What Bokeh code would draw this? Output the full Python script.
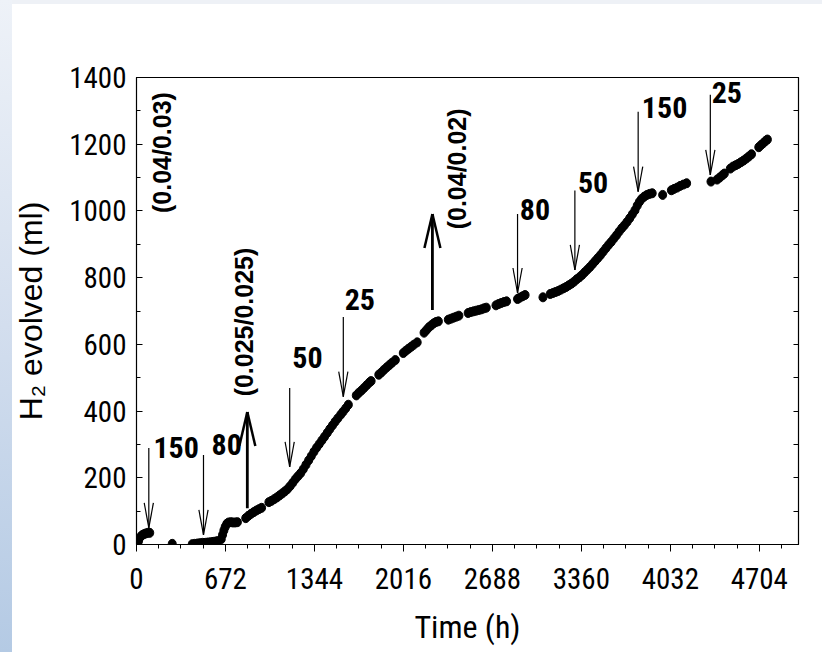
import numpy as np
from bokeh.plotting import figure
from bokeh.models import LinearAxis, FixedTicker, CustomJSTickFormatter, Range1d, ColumnDataSource
from bokeh.core.properties import value
from bokeh.embed import file_html
from bokeh.resources import INLINE

# ---------------- data ----------------
time_h = [
    5, 15, 28, 42, 56, 70, 85, 100,
    270,
    421, 440, 460, 480, 500, 520, 540, 560, 580, 600, 612,
    640, 650, 660, 670, 682, 696, 712, 728, 745, 762,
    825, 845, 865, 885, 905, 925, 945,
    1000, 1020, 1040, 1060, 1080, 1100, 1120, 1140, 1160, 1180, 1200, 1220, 1240, 1260,
    1280, 1300, 1320, 1340, 1360, 1380, 1400, 1420, 1441, 1460, 1480, 1500, 1520, 1542,
    1560, 1580, 1600,
    1660, 1680, 1700, 1720, 1740, 1760, 1772,
    1830, 1850, 1870, 1890, 1910, 1930, 1955,
    2015, 2035, 2055, 2075, 2095, 2120,
    2172, 2190, 2208, 2226, 2245, 2262, 2280,
    2355, 2375, 2395, 2415, 2435,
    2505, 2525, 2545, 2565, 2585, 2605, 2625, 2642,
    2715, 2735, 2755, 2775, 2795,
    2878, 2895, 2915, 2935,
    3070,
    3125, 3145, 3165, 3185, 3205, 3225, 3245, 3265, 3285, 3305, 3325, 3345, 3365, 3385,
    3405, 3425, 3445, 3465, 3485, 3505, 3525, 3545, 3565, 3585, 3605, 3625, 3645, 3665,
    3685, 3705, 3725, 3745, 3765, 3782, 3798, 3815, 3835, 3855, 3875, 3895,
    3974,
    4040, 4060, 4083, 4106, 4130, 4155,
    4339,
    4385, 4405, 4425, 4440,
    4485, 4505, 4525, 4545, 4565, 4585, 4605, 4625, 4645,
    4700, 4718, 4736, 4752, 4765,
]
h2_ml = [
    3, 10, 22, 28, 31, 33, 35, 35,
    2,
    1, 2, 3, 4, 5, 5, 6, 7, 8, 9, 10,
    16, 29, 42, 53, 62, 66, 67, 66, 66, 67,
    79, 86, 92, 97, 102, 106, 110,
    127, 131, 136, 141, 147, 153, 159, 166, 175, 185, 196, 205, 214, 226,
    239, 252, 265, 278, 290, 301, 312, 323, 335, 346, 357, 368, 378, 389,
    398, 408, 419,
    447, 455, 462, 470, 478, 486, 490,
    509, 516, 524, 531, 538, 545, 553,
    574, 581, 587, 593, 599, 606,
    635, 643, 651, 657, 663, 667, 669,
    674, 677, 680, 683, 686,
    694, 697, 699, 701, 703, 705, 708, 710,
    717, 721, 724, 727, 729,
    736, 740, 744, 748,
    741,
    751, 754, 757, 760, 764, 768, 772, 777, 782, 788, 795, 801, 808, 816,
    824, 832, 841, 850, 859, 868, 878, 888, 898, 907, 917, 927, 938, 948,
    957, 967, 978, 990, 1002, 1016, 1027, 1036, 1043, 1048, 1051, 1053,
    1048,
    1062, 1066, 1070, 1075, 1079, 1083,
    1088,
    1094, 1100, 1107, 1112,
    1127, 1133, 1137, 1141, 1146, 1151, 1157, 1163, 1170,
    1191, 1198, 1204, 1210, 1214,
]

x_ticks = [0, 672, 1344, 2016, 2688, 3360, 4032, 4704]
x_minor = list(range(0, 5001, 168))
y_ticks = [0, 200, 400, 600, 800, 1000, 1200, 1400]
y_minor = list(range(0, 1401, 100))

# thin arrows pointing down (label next to each)
down_x = [93, 506, 1157, 1562, 2878, 3311, 3789, 4334]
down_top = [289, 268, 469, 682, 991, 1061, 1297, 1348]
down_tip = [50, 29, 233, 443, 754, 823, 1058, 1108]
# thick arrows pointing up
up_x = [837, 2235]
up_base = [109, 703]
up_tip = [397, 991]

# labels beside the arrows (left edge, vertical centre)
num_labels = ["150", "80", "50", "25", "80", "50", "150", "25"]
num_x = [128, 567, 1177, 1572, 2895, 3334, 3817, 4344]
num_y = [291, 301, 561, 733, 1004, 1085, 1310, 1354]

ratio_labels = ["(0.04/0.03)", "(0.025/0.025)", "(0.04/0.02)"]
ratio_x = [189, 809, 2419]
ratio_y = [1175, 667, 1126]

x_title = "Time (h)"
y_title = "H\u2082 evolved (ml)"

# ---------------- figure ----------------
X_END, Y_END = 5000, 1400
W, H = 806, 644
BL, BR, BT, BB = 128, 16, 69, 108
fw, fh = W - BL - BR, H - BT - BB
px_x = fw / X_END
px_y = fh / Y_END

p = figure(width=W, height=H, x_range=Range1d(0, X_END), y_range=Range1d(0, Y_END),
           output_backend="svg", toolbar_location=None,
           min_border_left=BL, min_border_right=BR, min_border_top=BT, min_border_bottom=BB)
p.background_fill_color = "white"
p.border_fill_color = None
p.outline_line_color = "black"
p.outline_line_width = 1.2
p.grid.visible = False

COND = "Roboto Condensed"

xa = p.xaxis[0]
xa.ticker = FixedTicker(ticks=x_ticks, minor_ticks=x_minor)
xa.major_tick_in = 0
xa.major_tick_out = 7
xa.minor_tick_in = 0
xa.minor_tick_out = 4
xa.axis_line_color = "black"
xa.major_tick_line_color = "black"
xa.minor_tick_line_color = "black"
xa.major_label_text_font = COND
xa.major_label_text_font_size = "29px"
xa.major_label_text_color = "black"
xa.major_label_standoff = 16
xa.axis_label = x_title
xa.axis_label_text_font = COND
xa.axis_label_text_font_size = "32px"
xa.axis_label_text_font_style = "normal"
xa.axis_label_text_color = "black"
xa.axis_label_standoff = 16

ya = p.yaxis[0]
ya.ticker = FixedTicker(ticks=y_ticks, minor_ticks=y_minor)
ya.major_tick_in = 6
ya.major_tick_out = 0
ya.minor_tick_in = 4
ya.minor_tick_out = 0
ya.axis_line_color = "black"
ya.major_tick_line_color = "black"
ya.minor_tick_line_color = "black"
ya.major_label_text_font = COND
ya.major_label_text_font_size = "29px"
ya.major_label_text_color = "black"
ya.major_label_standoff = 10
ya.axis_label = y_title
ya.axis_label_text_font = "Liberation Sans"
ya.axis_label_text_font_size = "32px"
ya.axis_label_text_font_style = "normal"
ya.axis_label_text_color = "black"
ya.axis_label_standoff = 17

ra = LinearAxis(ticker=FixedTicker(ticks=y_minor, minor_ticks=[]),
                formatter=CustomJSTickFormatter(code="return ''"))
ra.major_tick_in = 5
ra.major_tick_out = 0
ra.minor_tick_in = 0
ra.minor_tick_out = 0
ra.axis_line_color = "black"
ra.major_tick_line_color = "black"
ra.major_label_standoff = 0
p.add_layout(ra, "right")

# data points
src = ColumnDataSource(dict(t=time_h, h=h2_ml))
p.ellipse(x="t", y="h", width=8, height=9, width_units="screen", height_units="screen",
          fill_color="black", line_color="black", source=src)

# thin down arrows
hw, hl = 4.6 / px_x, 25 / px_y
p.segment(x0=down_x, y0=down_top, x1=down_x, y1=down_tip, line_color="black", line_width=1.2)
bx0, by0, bx1, by1 = [], [], [], []
for x, tip in zip(down_x, down_tip):
    for s in (-1, 1):
        bx0.append(x); by0.append(tip); bx1.append(x + s * hw); by1.append(tip + hl)
p.segment(x0=bx0, y0=by0, x1=bx1, y1=by1, line_color="black", line_width=1.2)

# thick up arrows
thw, thl = 8 / px_x, 34 / px_y
p.segment(x0=up_x, y0=up_base, x1=up_x, y1=up_tip, line_color="black", line_width=2.8)
ux0, uy0, ux1, uy1 = [], [], [], []
for x, tip in zip(up_x, up_tip):
    for s in (-1, 1):
        ux0.append(x); uy0.append(tip); ux1.append(x + s * thw); uy1.append(tip - thl)
p.segment(x0=ux0, y0=uy0, x1=ux1, y1=uy1, line_color="black", line_width=2.5)

# labels
p.text(x=num_x, y=num_y, text=num_labels, text_font=value(COND), text_font_style="bold",
       text_font_size="30px", text_align="left", text_baseline="middle", text_color="black")
p.text(x=ratio_x, y=ratio_y, text=ratio_labels, angle=np.pi / 2, text_font=value("Liberation Sans"),
       text_font_style="bold", text_font_size="25px", text_align="center", text_baseline="middle",
       text_color="black")

html = file_html(p, INLINE, title="H2 evolved")
style = """<style>
html { height: 100%; overflow: hidden;
  background: linear-gradient(to bottom, #eef2f8 0%, #d3deee 50%, #b4cae4 100%) left top / 12px 100% no-repeat,
              linear-gradient(#eef1f6, #eef1f6) left top / 100% 4px no-repeat, #ffffff; }
body { margin: 8px 8px 0 8px !important; padding: 0 !important; height: auto !important;
       overflow: hidden; background: transparent; }
</style>"""
html = html.replace("</head>", style + "</head>")
open("out.html", "w").write(html)
